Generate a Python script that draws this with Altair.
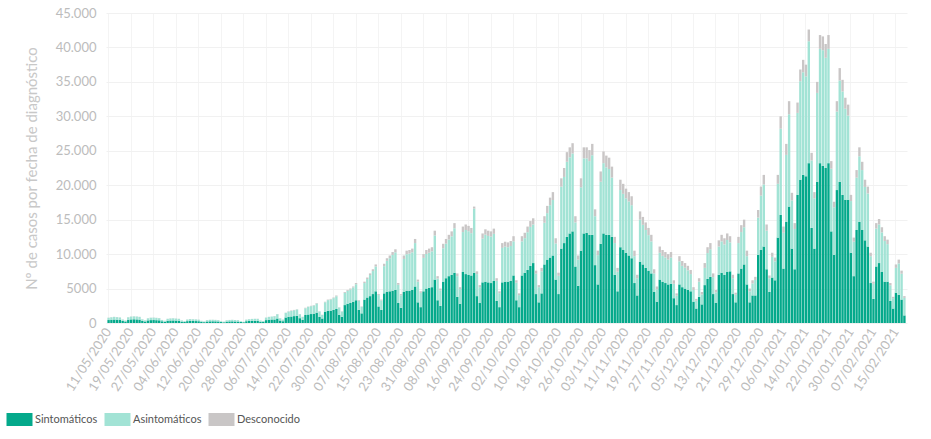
import altair as alt
import pandas as pd

# Daily cases by diagnosis date, 11/05/2020 - 18/02/2021 (284 days)
sintomaticos = [
    430, 480, 500, 480, 450, 300, 220,
    470, 520, 540, 520, 490, 300, 220,
    380, 420, 430, 410, 390, 250, 180,
    330, 360, 370, 350, 330, 200, 150,
    270, 300, 290, 280, 260, 170, 120,
    220, 240, 250, 240, 220, 140, 100,
    200, 230, 240, 220, 210, 130, 100,
    260, 290, 310, 320, 300, 190, 150,
    420, 470, 500, 520, 650, 360, 260,
    800, 900, 950, 1000, 1050, 700, 480,
    1150, 1250, 1300, 1350, 1500, 900, 650,
    1600, 1750, 1800, 1900, 2050, 1200, 900,
    2600, 2800, 2900, 3100, 3300, 1900, 1400,
    3400, 3700, 3900, 4200, 4600, 2400, 1900,
    4300, 4500, 4600, 4700, 4800, 2900, 2200,
    4500, 4700, 4700, 4800, 5300, 3000, 2300,
    4600, 5000, 5100, 5200, 6300, 3300, 2500,
    6000, 6500, 6800, 7000, 7300, 3800, 2800,
    7400, 7100, 7000, 6900, 7300, 3900, 2900,
    5900, 6000, 5900, 5800, 6100, 3200, 2300,
    5900, 6000, 6000, 6100, 6900, 3300, 2300,
    6900, 7300, 7700, 8300, 8700, 4200, 3000,
    4300, 8500, 9200, 9500, 9800, 6300, 4200,
    10800, 11600, 12500, 13000, 13300, 8200, 5400,
    10500, 13000, 13100, 12800, 12800, 8400, 5600,
    11500, 13000, 12800, 12800, 12500, 7000, 4600,
    11000, 10600, 10200, 9800, 9400, 5800, 4000,
    8900, 8500, 8000, 7600, 7200, 4500, 3100,
    6300, 6000, 5800, 5600, 5700, 3600, 2600,
    5600, 5200, 5000, 4800, 4600, 3100, 2100,
    3800, 2700, 5500, 6400, 6700, 4200, 2900,
    7000, 7300, 7000, 7400, 7500, 4200, 3000,
    7200, 7900, 8500, 5600, 3000, 4000, 4000,
    9900, 10600, 11100, 7800, 4500, 6600, 6200,
    12400, 15700, 7900, 14700, 16900, 10800, 7800,
    18600, 20800, 21500, 21300, 23200, 13800, 10800,
    20500, 23200, 22800, 22500, 23200, 13300, 9900,
    19300, 20500, 18600, 17900, 17900, 10200, 6800,
    13500, 14700, 13500, 12000, 11100, 5800, 3500,
    8200, 8700, 7400, 6000, 6000, 3200, 2100,
    4400, 4100, 3400, 1100,
]

asintomaticos = [
    330, 350, 380, 370, 350, 210, 150,
    360, 410, 420, 420, 390, 240, 170,
    300, 340, 350, 330, 310, 190, 140,
    275, 305, 315, 295, 275, 170, 120,
    235, 265, 255, 245, 225, 140, 100,
    190, 220, 220, 210, 190, 110, 90,
    190, 210, 220, 210, 200, 120, 80,
    230, 260, 280, 290, 290, 180, 140,
    360, 410, 430, 460, 620, 320, 230,
    670, 770, 810, 860, 910, 570, 400,
    1000, 1100, 1140, 1190, 1330, 760, 520,
    1420, 1570, 1610, 1710, 1850, 1040, 760,
    1780, 1870, 1960, 2050, 2340, 1300, 930,
    2400, 2680, 3060, 3340, 3600, 1650, 1380,
    3950, 4520, 4800, 5180, 5450, 2650, 1820,
    4800, 5280, 5370, 5460, 6300, 3000, 2080,
    4850, 5020, 5100, 5200, 6400, 3150, 2250,
    4850, 5020, 5300, 5580, 6450, 3000, 2120,
    5800, 6400, 6320, 6140, 9300, 3200, 2300,
    6350, 6820, 6740, 6750, 6840, 2920, 2030,
    5000, 5080, 5000, 5080, 4950, 2550, 1750,
    4950, 5020, 5480, 5650, 5600, 2980, 2200,
    3200, 6050, 6750, 7600, 8050, 5250, 2650,
    9000, 9600, 10900, 11050, 11300, 6400, 3800,
    9200, 10900, 10800, 10700, 11550, 7100, 4250,
    9000, 10200, 9800, 9550, 8600, 4600, 2850,
    8300, 8150, 7900, 7850, 7700, 3900, 2500,
    6100, 5750, 5500, 5150, 4650, 2700, 1800,
    3900, 3750, 3700, 3600, 3800, 2100, 1370,
    3350, 3100, 3020, 2850, 2500, 1700, 1130,
    2200, 1450, 2500, 3750, 4000, 2450, 1550,
    4100, 4550, 4400, 4650, 4200, 2300, 1100,
    4400, 5300, 5400, 4100, 1600, 1750, 2250,
    5400, 7900, 9000, 5600, 2000, 3000, 2750,
    7800, 12500, 5200, 9700, 13400, 7000, 5850,
    11900, 14300, 14900, 14500, 17700, 9800, 7300,
    12900, 16600, 16800, 16000, 16600, 9100, 6900,
    11400, 14700, 15000, 13200, 12200, 7500, 5000,
    7600, 9500, 8700, 7750, 7700, 3900, 2200,
    5500, 5600, 5750, 5900, 5450, 2280, 1500,
    3600, 4550, 3750, 2550,
]

desconocido = [
    20, 20, 20, 20, 20, 10, 10,
    20, 20, 20, 20, 20, 10, 10,
    20, 20, 20, 20, 20, 10, 10,
    15, 15, 15, 15, 15, 10, 10,
    15, 15, 15, 15, 15, 10, 10,
    10, 10, 10, 10, 10, 10, 10,
    10, 10, 10, 10, 10, 10, 10,
    10, 10, 10, 10, 10, 10, 10,
    20, 20, 20, 20, 30, 20, 10,
    30, 30, 40, 40, 40, 30, 20,
    50, 50, 60, 60, 70, 40, 30,
    80, 80, 90, 90, 100, 60, 40,
    120, 130, 140, 150, 160, 100, 70,
    200, 220, 240, 260, 300, 150, 120,
    350, 380, 400, 420, 450, 250, 180,
    500, 520, 530, 540, 600, 300, 220,
    550, 580, 600, 600, 700, 350, 250,
    650, 680, 700, 720, 750, 400, 280,
    800, 800, 780, 760, 300, 400, 300,
    750, 780, 760, 750, 760, 380, 270,
    700, 720, 700, 720, 750, 350, 250,
    750, 780, 820, 850, 900, 420, 300,
    500, 950, 1050, 1100, 1150, 750, 450,
    1200, 1300, 1400, 1450, 1500, 900, 600,
    1300, 1600, 1600, 1600, 1650, 1000, 650,
    1500, 1700, 1700, 1650, 1600, 900, 550,
    1500, 1450, 1400, 1350, 1300, 800, 500,
    1200, 1150, 1100, 1050, 950, 600, 400,
    900, 850, 800, 800, 800, 500, 330,
    750, 700, 680, 650, 600, 400, 270,
    500, 350, 700, 850, 900, 550, 350,
    900, 950, 900, 950, 900, 500, 300,
    900, 1000, 1100, 800, 400, 450, 450,
    1100, 1300, 1400, 900, 400, 600, 550,
    1300, 1800, 900, 1600, 1900, 1100, 850,
    1500, 1700, 1800, 1700, 1700, 1100, 900,
    1600, 2000, 2000, 2000, 2000, 1100, 800,
    1500, 1800, 1700, 1600, 1600, 900, 600,
    1100, 1300, 1200, 1050, 1000, 500, 300,
    800, 800, 750, 700, 650, 320, 200,
    500, 550, 450, 250,
]

fechas = [d.strftime("%d/%m/%Y") for d in pd.date_range("2020-05-11", periods=len(sintomaticos))]

etiquetas_x = [
    "11/05/2020", "19/05/2020", "27/05/2020", "04/06/2020", "12/06/2020", "20/06/2020",
    "28/06/2020", "06/07/2020", "14/07/2020", "22/07/2020", "30/07/2020", "07/08/2020",
    "15/08/2020", "23/08/2020", "31/08/2020", "08/09/2020", "16/09/2020", "24/09/2020",
    "02/10/2020", "10/10/2020", "18/10/2020", "26/10/2020", "03/11/2020", "11/11/2020",
    "19/11/2020", "27/11/2020", "05/12/2020", "13/12/2020", "21/12/2020", "29/12/2020",
    "06/01/2021", "14/01/2021", "22/01/2021", "30/01/2021", "07/02/2021", "15/02/2021",
]

series = ["Sintomáticos", "Asintomáticos", "Desconocido"]
colores = ["#04a98b", "#a2e3d5", "#c9c6c6"]
ticks_y = [0, 5000, 10000, 15000, 20000, 25000, 30000, 35000, 40000, 45000]

rows = []
for i, f in enumerate(fechas):
    for k, (name, vals) in enumerate(zip(series, [sintomaticos, asintomaticos, desconocido])):
        rows.append({"fecha": f, "serie": name, "casos": vals[i], "orden": k})
df = pd.DataFrame(rows)

label_font = "Lato"

chart = alt.Chart(df).mark_bar(strokeWidth=0).encode(
    x=alt.X(
        "fecha:O",
        sort=None,
        scale=alt.Scale(paddingInner=0.15, paddingOuter=0.5),
        axis=alt.Axis(
            values=etiquetas_x,
            labelAngle=-57,
            labelFontSize=13,
            labelFont=label_font,
            labelColor="#bcbcbc",
            ticks=False,
            domain=False,
            grid=True,
            gridColor="#f4f4f4",
            labelPadding=6,
            title=None,
        ),
    ),
    y=alt.Y(
        "casos:Q",
        stack="zero",
        scale=alt.Scale(domain=[0, 45000], nice=False),
        axis=alt.Axis(
            values=ticks_y,
            labelExpr="datum.value >= 10000 ? replace(format(datum.value, ',.0f'), ',', '.') : format(datum.value, '.0f')",
            labelFontSize=13,
            labelFont=label_font,
            labelColor="#bcbcbc",
            ticks=False,
            domain=False,
            grid=True,
            gridColor="#f1f1f1",
            labelPadding=10,
            title="Nº de casos por fecha de diagnóstico",
            titleFont=label_font,
            titleFontSize=15,
            titleFontWeight="normal",
            titleColor="#c8c8c8",
            titlePadding=16,
        ),
    ),
    color=alt.Color(
        "serie:N",
        scale=alt.Scale(domain=series, range=colores),
        legend=alt.Legend(
            title=None,
            orient="none",
            legendX=-93,
            legendY=400,
            direction="horizontal",
            symbolType="M-2,-1H2V1H-2Z",
            symbolSize=169,
            symbolStrokeWidth=0,
            symbolOpacity=1,
            labelFont=label_font,
            labelFontSize=11,
            labelColor="#555555",
            labelOffset=9,
            columnPadding=6,
        ),
    ),
    order=alt.Order("orden:Q", sort="ascending"),
).properties(
    width=801,
    height=310,
    padding={"left": 106, "top": 13, "right": 24, "bottom": 116},
    autosize=alt.AutoSizeParams(type="none"),
).configure_view(stroke=None)

chart.save("out.html", embed_options={"renderer": "svg", "actions": False})
